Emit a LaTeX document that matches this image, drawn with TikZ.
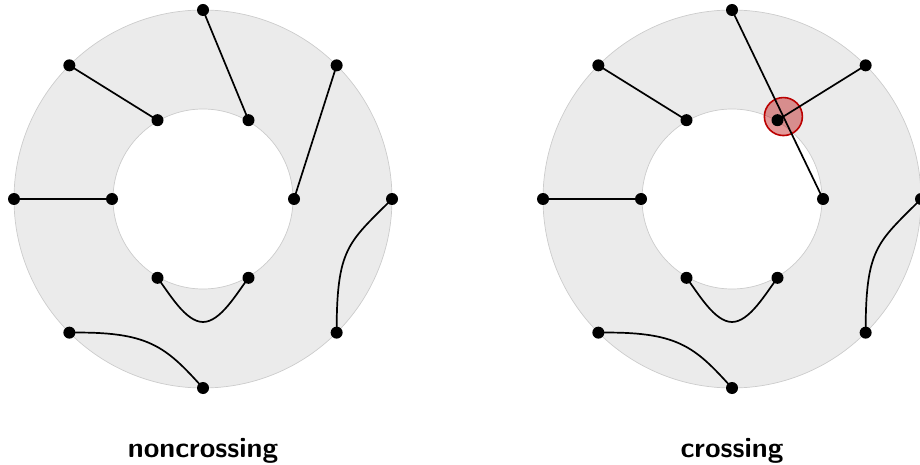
\documentclass[tikz,border=0pt]{standalone}
\usetikzlibrary{calc}
\definecolor{ringfill}{HTML}{EBEBEB}
\definecolor{ringedge}{HTML}{CCCCCC}
\definecolor{crossred}{HTML}{BB0000}
\tikzset{
  dot/.style={circle, fill=black, inner sep=0pt, minimum size=12pt},
  edge/.style={line width=1.7pt, black},
  ring/.style={fill=ringfill, draw=ringedge, line width=0.7pt, even odd rule},
  crossmark/.style={circle, draw=crossred, line width=1.6pt, fill=crossred, fill opacity=0.4, inner sep=0pt, minimum size=38pt},
  caption/.style={font=\fontsize{28.4}{34}\selectfont\sffamily\bfseries, anchor=base},
  sidecurve/.style={out=-135,in=90,out looseness=1.1,in looseness=1.5},
  vcurveA/.style={out=-53,in=180,out looseness=0.8,in looseness=0.7},
  vcurveB/.style={out=0,in=-127,out looseness=0.7,in looseness=0.8},
  lowcurve/.style={out=1,in=132,out looseness=1.4,in looseness=1.0}
}
\begin{document}
\begin{tikzpicture}[x=1pt,y=1pt]
\useasboundingbox (0,0) rectangle (920,464);
% centres
\coordinate (LC) at (203,265);
\coordinate (RC) at (732,265);
% rings
\path[ring] (LC) circle (189) (LC) circle (90);
\path[ring] (RC) circle (189) (RC) circle (90);
% points
\foreach \a in {0,45,90,135,180,225,270,315} {
  \coordinate (Lo\a) at ($(LC)+(\a:189)$);
  \coordinate (Ro\a) at ($(RC)+(\a:189)$);
}
\foreach \a in {0,60,120,180,240,300} {
  \coordinate (Li\a) at ($(LC)+(\a:91)$);
  \coordinate (Ri\a) at ($(RC)+(\a:91)$);
}
\coordinate (Lb) at (203,142);
\coordinate (Rb) at (732,142);
% crossing marker
\coordinate (X) at (intersection of Ro90--Ri0 and Ri60--Ro45);
\node[crossmark] (xmark) at (X) {};
% left edges
\draw[edge] (Lo90) -- (Li60);
\draw[edge] (Lo135) -- (Li120);
\draw[edge] (Lo180) -- (Li180);
\draw[edge] (Lo45) -- (Li0);
\draw[edge] (Lo0) to[sidecurve] (Lo315);
\draw[edge] (Li240) to[vcurveA] (Lb) to[vcurveB] (Li300);
\draw[edge] (Lo225) to[lowcurve] (Lo270);
% right edges
\draw[edge] (Ro90) -- (Ri0);
\draw[edge] (Ri60) -- (Ro45);
\draw[edge] (Ro135) -- (Ri120);
\draw[edge] (Ro180) -- (Ri180);
\draw[edge] (Ro0) to[sidecurve] (Ro315);
\draw[edge] (Ri240) to[vcurveA] (Rb) to[vcurveB] (Ri300);
\draw[edge] (Ro225) to[lowcurve] (Ro270);
% dots
\foreach \a in {0,45,90,135,180,225,270,315} {
  \node[dot] (dLo\a) at (Lo\a) {};
  \node[dot] (dRo\a) at (Ro\a) {};
}
\foreach \a in {0,60,120,180,240,300} {
  \node[dot] (dLi\a) at (Li\a) {};
  \node[dot] (dRi\a) at (Ri\a) {};
}
% captions
\node[caption] (capL) at (203,7) {noncrossing};
\node[caption] (capR) at (732,7) {crossing};
\end{tikzpicture}
\end{document}
